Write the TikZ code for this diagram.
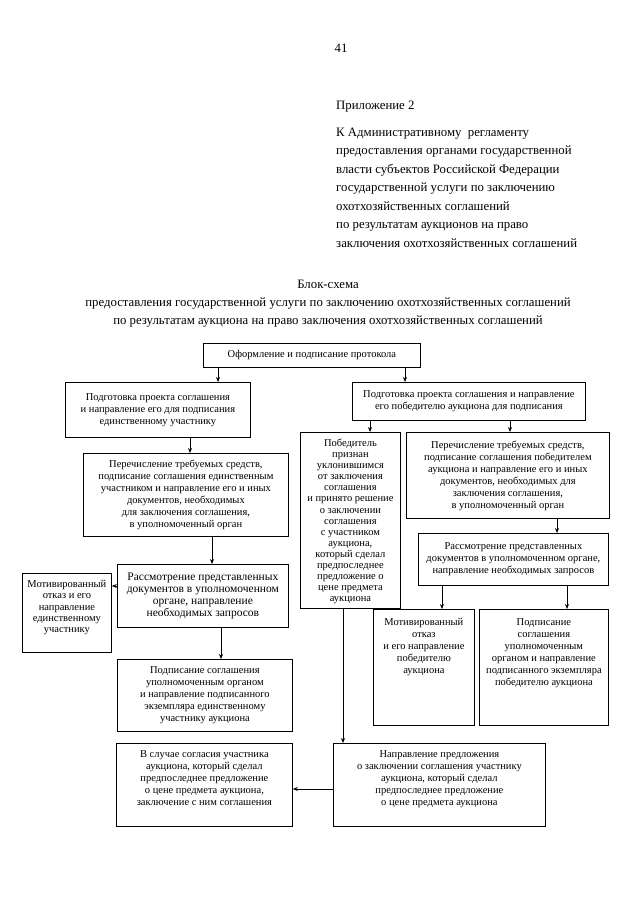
\documentclass[tikz,border=0pt]{standalone}
\usepackage{fontspec}
\setmainfont{Liberation Serif}
\usetikzlibrary{arrows.meta}
\newcommand\cbx[3]{\parbox[c][#2pt][c]{#1pt}{\centering #3\par}}
\newcommand\tbx[4]{\parbox[c][#2pt][t]{#1pt}{\centering\rule{0pt}{#3pt}#4\par}}
\begin{document}
\begin{tikzpicture}[x=1pt,y=1pt,
  hdr/.style={inner sep=0pt,font=\fontsize{12.8}{15}\selectfont},
  box/.style={draw,line width=0.8pt,inner sep=0pt,anchor=north west,font=\fontsize{10.5}{12}\selectfont},
  arr/.style={line width=0.7pt,-{Stealth[length=5pt,width=4pt]}},
  ln/.style={line width=0.7pt}]
\useasboundingbox (0,0) rectangle (640,-905);
\fill[white] (0,0) rectangle (640,-905);
% header
\node[hdr,anchor=base] (pg) at (341,-52) {41};
\node[hdr,anchor=base west] (app) at (336,-109) {Приложение 2};
\foreach \t [count=\i] in {К Административному\ \ регламенту,
  предоставления органами государственной,
  власти субъектов Российской Федерации,
  государственной услуги по заключению,
  охотхозяйственных соглашений,
  по результатам аукционов на право,
  заключения охотхозяйственных соглашений}
  \node[hdr,anchor=base west] (h\i) at (336,{-136-18.5*(\i-1)}) {\t};
\node[hdr,anchor=base] (t1) at (328,-288) {Блок-схема};
\node[hdr,anchor=base] (t2) at (328,-306) {предоставления государственной услуги по заключению охотхозяйственных соглашений};
\node[hdr,anchor=base] (t3) at (328,-324) {по результатам аукциона на право заключения охотхозяйственных соглашений};
% boxes
\node[box] (top) at (203,-343) {\cbx{217}{24}{Оформление и подписание протокола}};
\node[box] (lb1) at (65,-382) {\cbx{185}{55}{Подготовка проекта соглашения\\ и направление его для подписания\\ единственному участнику}};
\node[box] (rb1) at (352,-382) {\cbx{233}{38}{Подготовка проекта соглашения и направление\\ его победителю аукциона для подписания}};
\node[box] (lb2) at (83,-453) {\cbx{205}{83}{Перечисление требуемых средств,\\ подписание соглашения единственным\\ участником и направление его и иных\\ документов, необходимых\\ для заключения соглашения,\\ в уполномоченный орган}};
\node[box,font=\fontsize{11.5}{12}\selectfont] (lb3) at (117,-564) {\cbx{171}{63}{Рассмотрение представленных\\ документов в уполномоченном\\ органе, направление\\ необходимых запросов}};
\node[box,font=\fontsize{10.5}{11.3}\selectfont] (lmot) at (22,-573) {\tbx{89}{79}{14}{Мотивированный\\ отказ и его\\ направление\\ единственному\\ участнику}};
\node[box] (lb4) at (117,-659) {\cbx{175}{72}{Подписание соглашения\\ уполномоченным органом\\ и направление подписанного\\ экземпляра единственному\\ участнику аукциона}};
\node[box] (lb5) at (116,-743) {\tbx{176}{83}{14}{В случае согласия участника\\ аукциона, который сделал\\ предпоследнее предложение\\ о цене предмета аукциона,\\ заключение с ним соглашения}};
\node[box,font=\fontsize{10.5}{11.1}\selectfont] (pob) at (300,-432) {\tbx{100}{176}{14}{Победитель\\ признан\\ уклонившимся\\ от заключения\\ соглашения\\ и принято решение\\ о заключении\\ соглашения\\ с участником\\ аукциона,\\ который сделал\\ предпоследнее\\ предложение о\\ цене предмета\\ аукциона}};
\node[box] (rper) at (406,-432) {\cbx{203}{86}{Перечисление требуемых средств,\\ подписание соглашения победителем\\ аукциона и направление его и иных\\ документов, необходимых для\\ заключения соглашения,\\ в уполномоченный орган}};
\node[box] (rras) at (418,-533) {\cbx{190}{52}{Рассмотрение представленных\\ документов в уполномоченном органе,\\ направление необходимых запросов}};
\node[box] (rmot) at (373,-609) {\tbx{101}{116}{16}{Мотивированный\\ отказ\\ и его направление\\ победителю\\ аукциона}};
\node[box] (rpodp) at (479,-609) {\tbx{129}{116}{16}{Подписание\\ соглашения\\ уполномоченным\\ органом и направление\\ подписанного экземпляра\\ победителю аукциона}};
\node[box] (rnap) at (333,-743) {\tbx{212}{83}{14}{Направление предложения\\ о заключении соглашения участнику\\ аукциона, который сделал\\ предпоследнее предложение\\ о цене предмета аукциона}};
% connector positions
\coordinate (xa) at (218,0);
\coordinate (xb) at (405,0);
\coordinate (xc) at (370,0);
\coordinate (xd) at (510,0);
\coordinate (xe) at (190,0);
\coordinate (xf) at (212,0);
\coordinate (xg) at (221,0);
\coordinate (xh) at (343,0);
\coordinate (xi) at (557,0);
\coordinate (xj) at (442,0);
\coordinate (xk) at (567,0);
\coordinate (ya) at (0,-586);
\coordinate (yb) at (0,-789);
% connectors
\draw[arr] (top.south -| xa) -- (lb1.north -| xa);
\draw[arr] (top.south -| xb) -- (rb1.north -| xb);
\draw[arr] (rb1.south -| xc) -- (pob.north -| xc);
\draw[arr] (rb1.south -| xd) -- (rper.north -| xd);
\draw[arr] (lb1.south -| xe) -- (lb2.north -| xe);
\draw[arr] (lb2.south -| xf) -- (lb3.north -| xf);
\draw[arr] (lb3.west |- ya) -- (lmot.east |- ya);
\draw[arr] (lb3.south -| xg) -- (lb4.north -| xg);
\draw[arr] (pob.south -| xh) -- (rnap.north -| xh);
\draw[arr] (rper.south -| xi) -- (rras.north -| xi);
\draw[arr] (rras.south -| xj) -- (rmot.north -| xj);
\draw[arr] (rras.south -| xk) -- (rpodp.north -| xk);
\draw[arr] (rnap.west |- yb) -- (lb5.east |- yb);
\end{tikzpicture}
\end{document}
